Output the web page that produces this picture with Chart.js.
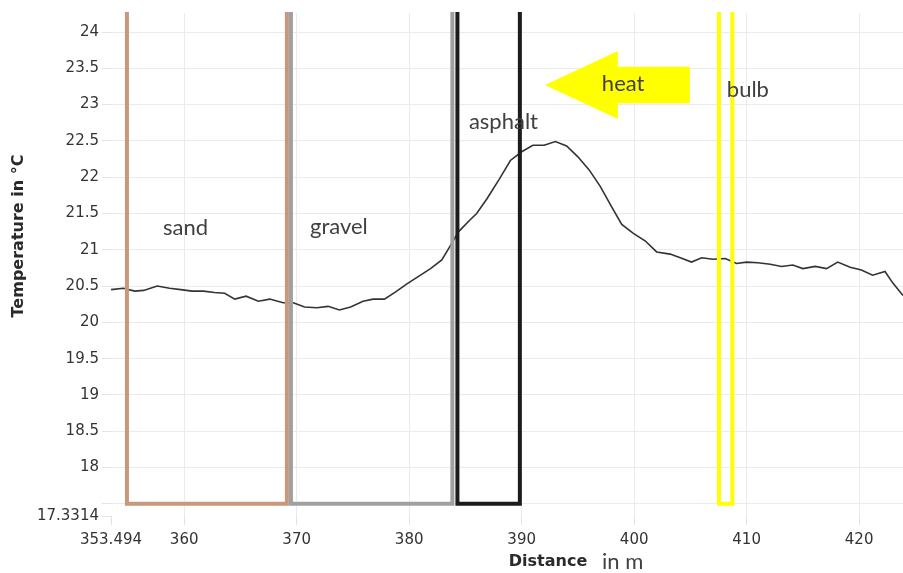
<!DOCTYPE html>
<html>
<head>
<meta charset="utf-8">
<script src="https://cdn.jsdelivr.net/npm/chart.js@4/dist/chart.umd.min.js"></script>
<style>
html,body{margin:0;padding:0;background:#fff;}
#c{display:block;}
</style>
</head>
<body>
<canvas id="c" width="903" height="573"></canvas>
<script>
// ---- data ----
const distances = [353.5,354.6,355.6,356.4,357.6,358.7,359.7,360.7,361.7,362.7,363.6,364.5,365.5,366.6,367.6,368.8,369.7,370.7,371.8,372.8,373.8,374.8,375.9,376.8,377.8,378.8,379.8,380.8,381.9,382.9,383.6,384.4,385.4,386.0,386.9,388.0,389.0,390.0,391.0,392.0,393.0,394.0,395.0,396.0,397.0,398.0,398.9,399.9,401.0,402.0,403.2,404.1,405.1,406.0,407.0,408.1,409.1,410.0,411.0,412.1,413.1,414.1,415.0,416.1,417.1,418.1,419.2,420.2,421.2,422.3,423.0,423.9];
const temperatures = [20.45,20.47,20.43,20.44,20.50,20.47,20.45,20.43,20.43,20.41,20.40,20.32,20.36,20.29,20.32,20.27,20.27,20.21,20.20,20.22,20.17,20.21,20.29,20.32,20.32,20.42,20.53,20.63,20.74,20.86,21.04,21.25,21.41,21.50,21.70,21.97,22.23,22.35,22.44,22.44,22.49,22.43,22.28,22.10,21.87,21.59,21.35,21.23,21.12,20.97,20.94,20.89,20.83,20.89,20.87,20.88,20.81,20.83,20.82,20.80,20.77,20.79,20.74,20.77,20.74,20.83,20.76,20.72,20.65,20.70,20.54,20.37];
const xTicks = [353.494,360,370,380,390,400,410,420];
const yTicks = [17.3314,17.5,18,18.5,19,19.5,20,20.5,21,21.5,22,22.5,23,23.5,24];
const xMin = 353.494, xMax = 423.9;
const yMin = 17.3314, yMax = 24.262;
// surface zones (start / end distance) and labels
const zoneNames = ['sand','gravel','asphalt','bulb'];
const zoneStart = [354.91,369.49,384.29,407.54];
const zoneEnd   = [369.13,383.84,389.84,408.73];
const zoneBottom = 17.5;
const labelTexts = ['sand','gravel','asphalt','heat','bulb'];
const labelX = [358.12,371.18,385.31,397.13,408.24];
const labelY = [21.30,21.31,22.76,23.28,23.20];

const zoneColors = ['#c9977b','#a0a0a0','#1c1c1c','#ffff00'];

const annot = {
  id:'annot',
  afterDatasetsDraw(chart){
    const ctx = chart.ctx, xs = chart.scales.x, ys = chart.scales.y, a = chart.chartArea;
    ctx.save();
    ctx.beginPath(); ctx.rect(a.left, a.top-1, a.right-a.left, a.bottom-a.top+2); ctx.clip();
    const px = v=>xs.getPixelForValue(v), py = v=>ys.getPixelForValue(v);
    // arrow (heat)
    ctx.fillStyle = '#ffff00';
    ctx.beginPath();
    ctx.moveTo(px(392.06), py(23.27));
    ctx.lineTo(px(398.55), py(23.74));
    ctx.lineTo(px(398.55), py(23.52));
    ctx.lineTo(px(404.95), py(23.52));
    ctx.lineTo(px(404.95), py(23.02));
    ctx.lineTo(px(398.55), py(23.02));
    ctx.lineTo(px(398.55), py(22.80));
    ctx.closePath(); ctx.fill();
    // zones
    ctx.lineWidth = 4;
    const order = [1,0,2,3];
    for (const i of order){
      ctx.strokeStyle = zoneColors[i];
      const l = px(zoneStart[i]), r = px(zoneEnd[i]), b = py(zoneBottom);
      ctx.beginPath();
      ctx.moveTo(l, a.top-10); ctx.lineTo(l, b); ctx.lineTo(r, b); ctx.lineTo(r, a.top-10);
      ctx.stroke();
    }
    ctx.restore();
    // labels
    ctx.save();
    ctx.fillStyle = '#404040';
    ctx.font = '22px Lato, "Open Sans", sans-serif';
    ctx.textBaseline = 'middle';
    ctx.textAlign = 'left';
    labelTexts.forEach((t,i)=>ctx.fillText(t, px(labelX[i]), py(labelY[i])));
    // axis titles
    ctx.fillStyle = '#2a2a2a';
    ctx.font = 'bold 16px "DejaVu Sans", sans-serif';
    ctx.textAlign = 'center';
    ctx.fillText('Distance', 548, 562);
    ctx.fillStyle = '#404040';
    ctx.font = '22px Lato, "Open Sans", sans-serif';
    ctx.textAlign = 'left';
    ctx.fillText('in m', 602, 562);
    ctx.fillStyle = '#2a2a2a';
    ctx.font = 'bold 16px "DejaVu Sans", sans-serif';
    ctx.translate(18.5, 236);
    ctx.rotate(-Math.PI/2);
    ctx.textAlign = 'center';
    ctx.fillText('Temperature in °C', 0, 0);
    ctx.restore();
  }
};

const gridCol = ctx => (ctx.index === 0 ? 'rgba(0,0,0,0)' : '#ebebeb');

new Chart(document.getElementById('c'), {
  type:'line',
  data:{ datasets:[{
    data: distances.map((d,i)=>({x:d, y:temperatures[i]})),
    borderColor:'#333333', borderWidth:1.6, pointRadius:0, tension:0, fill:false
  }]},
  options:{
    responsive:false, animation:false, devicePixelRatio:1,
    layout:{padding:{top:13,right:0,left:0,bottom:0}},
    plugins:{legend:{display:false}, tooltip:{enabled:false}},
    scales:{
      x:{type:'linear', min:xMin, max:xMax,
        afterBuildTicks: s=>{ s.ticks = xTicks.map(v=>({value:v})); },
        afterFit: s=>{ s.height = 57; },
        border:{display:false},
        grid:{color:gridCol, tickColor:'#e3e3e3', tickLength:9, lineWidth:1},
        ticks:{autoSkip:false, maxRotation:0, padding:6, color:'#333', font:{family:'"DejaVu Sans", sans-serif', size:15},
          callback: v=>String(v)}
      },
      y:{type:'linear', min:yMin, max:yMax,
        afterBuildTicks: s=>{ s.ticks = yTicks.map(v=>({value:v})); },
        afterFit: s=>{ s.width = 111; },
        border:{display:false},
        grid:{color:gridCol, tickColor:'#e3e3e3', tickLength:9, lineWidth:1},
        ticks:{autoSkip:false, padding:3, color:'#333', font:{family:'"DejaVu Sans", sans-serif', size:15},
          callback: v=> (v===17.5 ? '' : String(v))}
      }
    }
  },
  plugins:[annot]
});
</script>
</body>
</html>
